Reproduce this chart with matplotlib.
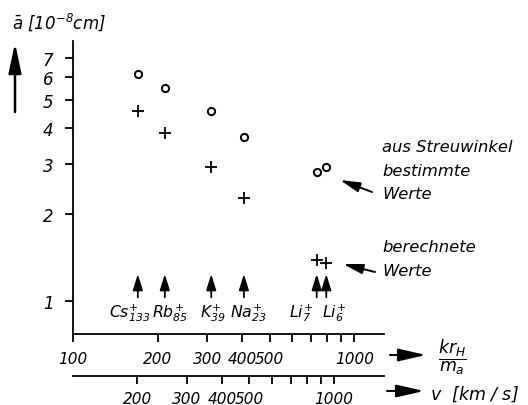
import matplotlib
matplotlib.use("Agg")
import matplotlib.pyplot as plt
from matplotlib.ticker import NullLocator, FixedLocator

# ---- data ----
ions = ["Cs", "Rb", "K", "Na", "Li", "Li"]
masses = ["133", "85", "39", "23", "7", "6"]
kr_over_m = [170, 212, 310, 405, 735, 795]          # x positions (kr_H/m_a)
a_measured = [6.14, 5.49, 4.58, 3.72, 2.80, 2.93]    # circles: aus Streuwinkel bestimmte Werte
a_calculated = [4.58, 3.82, 2.91, 2.28, 1.39, 1.35]  # plus: berechnete Werte
y_ticks = [1, 2, 3, 4, 5, 6, 7]
x_ticks = [100, 200, 300, 400, 500, 600, 700, 800, 900, 1000]
x_labels = ["100", "200", "300", "400", "500", "", "", "", "", "1000"]
v_ticks = [200, 300, 400, 500, 600, 700, 800, 900, 1000]
v_labels = ["200", "300", "400", "500", "", "", "", "", "1000"]
V_PER_KR = 1.18  # v [km/s] per unit of kr_H/m_a

plt.rcParams["font.family"] = ["DejaVu Sans"]
plt.rcParams["font.style"] = "italic"
plt.rcParams["mathtext.fontset"] = "dejavusans"

W, H = 528, 406
fig = plt.figure(figsize=(W / 100, H / 100), dpi=100)


def px(x, y):
    return (x / W, 1 - y / H)


L, R, T, B = 73, 384, 42, 335
ax = fig.add_axes([L / W, (H - B) / H, (R - L) / W, (B - T) / H])
ax.set_xscale("log")
ax.set_yscale("log")
ax.set_xlim(100, 1275)
ax.set_ylim(0.768, 8.0)
for s in ("top", "right"):
    ax.spines[s].set_visible(False)
for s in ("left", "bottom"):
    ax.spines[s].set_linewidth(1.3)

ax.yaxis.set_major_locator(FixedLocator(y_ticks))
ax.yaxis.set_minor_locator(NullLocator())
ax.set_yticklabels([str(t) for t in y_ticks])
ax.xaxis.set_major_locator(FixedLocator(x_ticks))
ax.xaxis.set_minor_locator(NullLocator())
ax.set_xticklabels(x_labels)
ax.tick_params(axis="both", direction="out", length=6, width=1.3,
               labelsize=11, colors="black")
ax.tick_params(axis="y", pad=8, labelsize=12)
ax.tick_params(axis="x", pad=6)

# secondary axis v [km/s]
sec = ax.secondary_xaxis(-0.143, functions=(lambda k: k * V_PER_KR,
                                             lambda v: v / V_PER_KR))
sec.xaxis.set_major_locator(FixedLocator(v_ticks))
sec.xaxis.set_minor_locator(NullLocator())
sec.set_xticklabels(v_labels)
sec.spines["bottom"].set_linewidth(1.3)
sec.tick_params(axis="x", direction="out", length=6, width=1.3,
                labelsize=11, pad=5)

# data marks
ax.plot(kr_over_m, a_measured, linestyle="none", marker="o", ms=5.2,
        mfc="white", mec="black", mew=1.4)
ax.plot(kr_over_m, a_calculated, linestyle="none", marker="+", ms=8,
        mec="black", mew=1.3)

# ion arrows and labels
label_dx = [-6, 4, 1, 3, -11, 6]
for ion, m, xv, dx in zip(ions, masses, kr_over_m, label_dx):
    ax.annotate("", xy=(xv, 1.24), xytext=(xv, 1.03),
                arrowprops=dict(arrowstyle="-|>,head_length=0.8,head_width=0.25",
                                mutation_scale=12,
                                color="black", lw=1.3, shrinkA=0, shrinkB=0))
    ax.annotate(r"$%s^{+}_{%s}$" % (ion, m), xy=(xv, 1.0), xytext=(dx, 0),
                textcoords="offset points", ha="center", va="top",
                fontsize=11.3)

# legend-like annotations
for yy, txt in [(148, "aus Streuwinkel"), (172, "bestimmte"), (195, "Werte"),
                (248, "berechnete"), (272, "Werte")]:
    fig.text(*px(382, yy), txt, fontsize=11.8, va="center", ha="left")


def arrow(x0, y0, x1, y1, hl=0.8, hw=0.25, lw=1.3):
    fig.add_artist(matplotlib.patches.FancyArrowPatch(
        px(x0, y0), px(x1, y1), transform=fig.transFigure,
        arrowstyle="-|>,head_length=%g,head_width=%g" % (hl, hw),
        mutation_scale=12, color="black", lw=lw, shrinkA=0, shrinkB=0))


arrow(372, 193, 340, 181, hl=1.0, hw=0.25, lw=1.4)
arrow(375, 273, 343, 265, hl=1.0, hw=0.25, lw=1.4)

# axis arrows
arrow(390, 356, 426, 356, hl=1.4, hw=0.32, lw=1.5)
arrow(387, 392, 424, 392, hl=1.4, hw=0.32, lw=1.5)
arrow(15, 113, 15, 44, hl=1.5, hw=0.32, lw=1.8)

fig.text(*px(452, 357), r"$\dfrac{kr_H}{m_a}$", fontsize=12.5, ha="center", va="center")
fig.text(*px(430, 394), r"$v$  [km / s]", fontsize=12.5, ha="left", va="center")
fig.text(*px(12, 22), r"$\bar{a}$ [10$^{-8}$cm]", fontsize=12, ha="left", va="center")

fig.savefig("out.png", dpi=100, facecolor="white")
